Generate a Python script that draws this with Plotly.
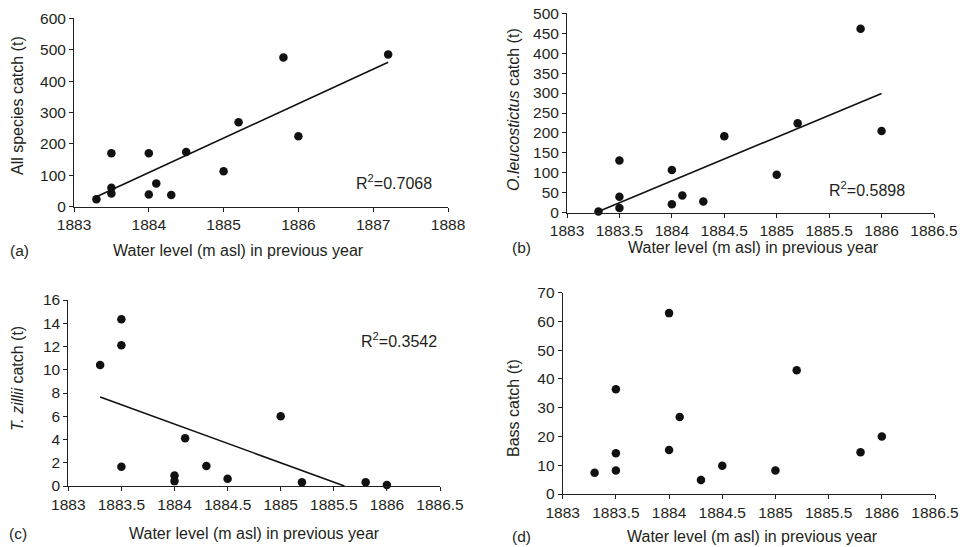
import plotly.graph_objects as go

# ---------------- data ----------------
# (a) all species
level_a = [1883.3, 1883.5, 1883.5, 1883.5, 1884.0, 1884.0, 1884.1, 1884.3, 1884.5,
           1885.0, 1885.2, 1885.8, 1886.0, 1887.2]
catch_all = [24, 170, 60, 42, 170, 39, 74, 37, 174, 113, 269, 475, 224, 485]
trend_a_x = [1883.3, 1887.2]
trend_a_y = [32, 460]

# common water levels for (b)-(d)
level = [1883.3, 1883.5, 1883.5, 1883.5, 1884.0, 1884.0, 1884.1, 1884.3, 1884.5,
         1885.0, 1885.2, 1885.8, 1886.0]
# (b) O. leucostictus
catch_ol = [3, 131, 40, 12, 107, 21, 43, 28, 192, 95, 224, 461, 205]
trend_b_x = [1883.3, 1886.0]
trend_b_y = [3, 299]
# (c) T. zillii
catch_tz = [10.4, 14.35, 12.1, 1.65, 0.9, 0.42, 4.1, 1.72, 0.62, 6.0, 0.33, 0.33, 0.08]
trend_c_x = [1883.3, 1885.6]
trend_c_y = [7.66, 0.0]
# (d) Bass
catch_bass = [7.4, 36.4, 14.2, 8.2, 62.9, 15.3, 26.8, 4.9, 9.8, 8.2, 43.0, 14.5, 20.0]

r2_labels = ["R<sup>2</sup>=0.7068", "R<sup>2</sup>=0.5898", "R<sup>2</sup>=0.3542"]
panel_labels = ["(a)", "(b)", "(c)", "(d)"]
y_titles = ["All species catch (t)", "<i>O.leucostictus</i> catch (t)",
            "<i>T. zillii</i> catch (t)", "Bass catch (t)"]
x_title = "Water level (m asl) in previous year"

# ---------------- layout helpers ----------------
W, H = 963, 547
FONT = "Liberation Sans, Arial, sans-serif"
TXT = "#231f20"

def fx(px):
    return px / W

def fy(py):
    return 1 - py / H

fig = go.Figure()

marker = dict(color="#111111", size=8.5)
line = dict(color="#111111", width=1.6)

def add_panel(idx, xs, ys, tx=None, ty=None):
    sfx = "" if idx == 1 else str(idx)
    fig.add_trace(go.Scatter(x=xs, y=ys, mode="markers", marker=marker,
                             cliponaxis=False, showlegend=False,
                             xaxis="x" + sfx, yaxis="y" + sfx))
    if tx is not None:
        fig.add_trace(go.Scatter(x=tx, y=ty, mode="lines", line=line,
                                 showlegend=False, xaxis="x" + sfx, yaxis="y" + sfx))

add_panel(1, level_a, catch_all, trend_a_x, trend_a_y)
add_panel(2, level, catch_ol, trend_b_x, trend_b_y)
add_panel(3, level, catch_tz, trend_c_x, trend_c_y)
add_panel(4, level, catch_bass)

axis_common = dict(showline=True, linecolor=TXT, linewidth=1, ticks="outside",
                   ticklen=4, tickcolor=TXT, tickwidth=1, showgrid=False,
                   zeroline=False, automargin=False, tickformat="~g",
                   tickfont=dict(family=FONT, size=15.5, color=TXT))

panels = [
    # x px domain, y px domain (top, bottom), xrange, dtick x, yrange, dtick y
    ((74, 448), (18.3, 206.7), (1883, 1888), 1, (0, 600), 100),
    ((567, 934), (13.3, 212.7), (1883, 1886.5), 0.5, (0, 500), 50),
    ((68.3, 440), (300, 486), (1883, 1886.5), 0.5, (0, 16), 2),
    ((562.7, 935), (292.7, 494), (1883, 1886.5), 0.5, (0, 70), 10),
]

layout = dict(width=W, height=H, margin=dict(l=0, r=0, t=0, b=0, autoexpand=False),
              template="none", paper_bgcolor="white", plot_bgcolor="white",
              font=dict(family=FONT, color=TXT))
for i, (xd, yd, xr, dx, yr, dy) in enumerate(panels, start=1):
    sfx = "" if i == 1 else str(i)
    layout["xaxis" + sfx] = dict(axis_common, domain=[fx(xd[0]), fx(xd[1])],
                                 range=list(xr), dtick=dx, tick0=1883,
                                 anchor="y" + sfx)
    layout["yaxis" + sfx] = dict(axis_common, domain=[fy(yd[1]), fy(yd[0])],
                                 range=list(yr), dtick=dy, tick0=0,
                                 anchor="x" + sfx)
fig.update_layout(**layout)

ann = []
def text(x, y, s, size=15.5, angle=0):
    ann.append(dict(x=fx(x), y=fy(y), xref="paper", yref="paper", text=s,
                    showarrow=False, textangle=angle, xanchor="center",
                    yanchor="middle", font=dict(family=FONT, size=size, color=TXT)))

# x titles
for (x, y) in [(238, 250), (753, 247), (255, 533), (752, 536)]:
    text(x, y, x_title, size=16)
# panel labels
for lab, (x, y) in zip(panel_labels, [(19, 250), (521, 247), (18, 533), (521, 536)]):
    text(x, y, lab, size=15.5)
# y titles
for t, (x, y) in zip(y_titles, [(18, 106), (513, 110), (17, 379), (513, 408)]):
    text(x, y, t, size=16, angle=-90)
# R^2
for t, (x, y) in zip(r2_labels, [(394, 182), (867, 189), (399, 340)]):
    text(x, y, t, size=16)

fig.update_layout(annotations=ann)
fig.write_html("out.html",
               config={"displayModeBar": False},
               post_script="document.body.style.margin='0';document.body.style.padding='0';"
                           "document.body.style.overflow='hidden';")
